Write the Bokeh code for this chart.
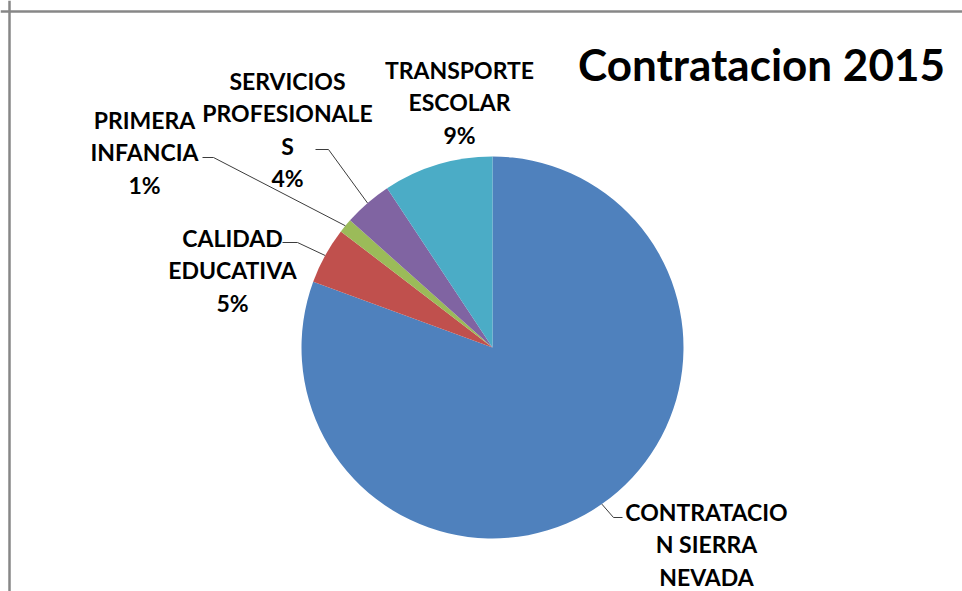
import numpy as np
from bokeh.plotting import figure
from bokeh.models import Range1d, Span, ColumnDataSource
from bokeh.core.properties import value
from bokeh.embed import file_html
from bokeh.resources import INLINE

# ---- data ----
categories = ["CONTRATACION SIERRA NEVADA", "CALIDAD EDUCATIVA", "PRIMERA INFANCIA",
              "SERVICIOS PROFESIONALES", "TRANSPORTE ESCOLAR"]
shares = [80.6, 4.8, 1.2, 4.1, 9.3]
label_names = ["CONTRATACIO\nN SIERRA\nNEVADA", "CALIDAD\nEDUCATIVA", "PRIMERA\nINFANCIA",
               "SERVICIOS\nPROFESIONALE\nS", "TRANSPORTE\nESCOLAR"]
show_pct = [False, True, True, True, True]
title_text = "Contratacion 2015"

# ---- style / layout ----
colors = ["#4F81BD", "#C0504D", "#9BBB59", "#8064A2", "#4BACC6"]
W, H = 962, 591
cx, cy, R = 492, 244, 191
label_xy = [(706, 47), (232, 321), (144, 439), (287, 462), (459, 489)]
leader_elbows = [[(613, 74), (622, 74)], [(297, 349), (282, 349)], [(213, 434), (202, 434)],
                 [(328, 442), (315, 442)], None]
FONT = "Lato"

p = figure(width=W, height=H, output_backend="svg", toolbar_location=None,
           x_range=Range1d(0, W), y_range=Range1d(0, H),
           x_axis_location=None, y_axis_location=None, min_border=0)
p.grid.visible = False
p.outline_line_color = None
p.background_fill_color = "white"
p.border_fill_color = "white"

# border of the chart area (top and left visible)
p.add_layout(Span(location=9, dimension="height", line_color="#878787", line_width=2.5))
p.add_layout(Span(location=580, dimension="width", line_color="#878787", line_width=2.5))

vals = np.array(shares, dtype=float)
frac = vals / vals.sum()
cum = np.concatenate([[0], np.cumsum(frac)])
start = np.pi / 2 - 2 * np.pi * cum[:-1]
end = np.pi / 2 - 2 * np.pi * cum[1:]
mid = (start + end) / 2

src = ColumnDataSource(dict(start=start, end=end, color=colors, cat=categories))
p.wedge(x=cx, y=cy, radius=R, start_angle="start", end_angle="end", direction="clock",
        fill_color="color", line_color=None, source=src)

# leader lines
xs, ys = [], []
for i, el in enumerate(leader_elbows):
    if el is None:
        continue
    ex = cx + R * np.cos(mid[i])
    ey = cy + R * np.sin(mid[i])
    xs.append([ex] + [pt[0] for pt in el])
    ys.append([ey] + [pt[1] for pt in el])
p.multi_line(xs=xs, ys=ys, line_color="#3c3c3c", line_width=1)

# data labels
texts = []
for i in range(len(categories)):
    t = label_names[i]
    if show_pct[i]:
        t += "\n%d%%" % round(frac[i] * 100)
    texts.append(t)
lsrc = ColumnDataSource(dict(x=[a for a, b in label_xy], y=[b for a, b in label_xy], t=texts))
p.text(x="x", y="y", text="t", source=lsrc, text_font=value(FONT), text_font_style="bold",
       text_font_size="23px", text_align="center", text_baseline="middle",
       text_line_height=1.16, text_color="#000000")

# title
p.text(x=[761], y=[528], text=[title_text], text_font=value(FONT), text_font_style="bold",
       text_font_size="44px", text_align="center", text_baseline="middle", text_color="#000000")

open("out.html", "w").write(file_html(p, INLINE))
